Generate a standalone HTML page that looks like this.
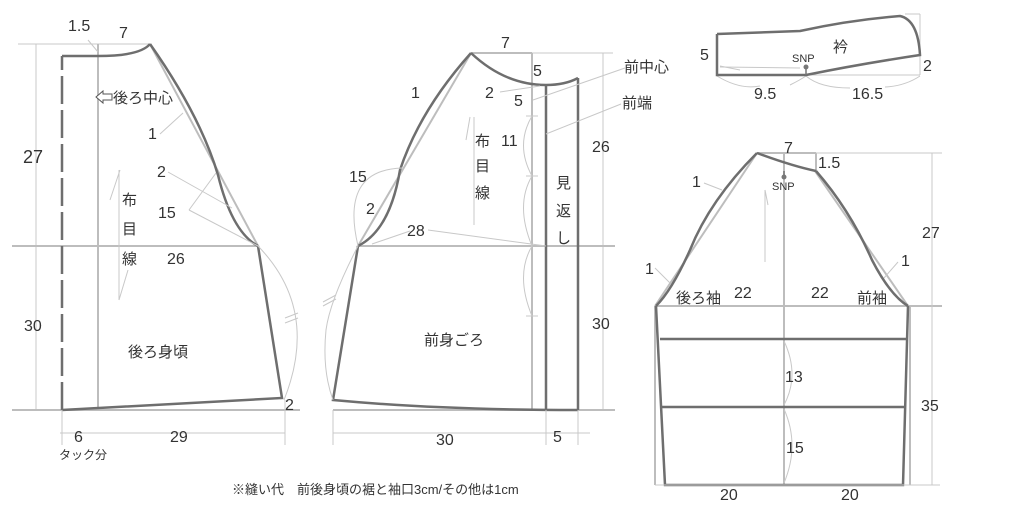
<!DOCTYPE html>
<html><head><meta charset="utf-8"><style>
html,body{margin:0;padding:0;background:#fff;}
svg{display:block;font-family:"Liberation Sans","Noto Sans CJK JP",sans-serif;}
.g{stroke:#bdbdbd;stroke-width:2;fill:none}
.t{stroke:#c8c8c8;stroke-width:1;fill:none}
.d{stroke:#6e6e6e;stroke-width:2.5;fill:none}
text{fill:#333}
.j{font-size:15px}
</style></head><body>
<svg width="1024" height="532" viewBox="0 0 1024 532" font-size="16">
<!-- BACK BODICE -->
<line class="t" x1="18" y1="44" x2="150" y2="44"/>
<line class="t" x1="36" y1="44" x2="36" y2="410"/>
<line class="g" x1="98" y1="44" x2="98" y2="410"/>
<line class="g" x1="12" y1="246" x2="258" y2="246"/>
<line class="g" x1="12" y1="410" x2="300" y2="410"/>
<line class="g" x1="150" y1="44" x2="258" y2="246"/>
<path class="d" d="M62 410 L62 56" stroke-dasharray="28 6"/>
<path class="d" d="M62 56 L98 56 Q140 56 150 44"/>
<path class="d" d="M150 44 Q200 115 218 175 Q232 232 258 246"/>
<path class="d" d="M258 246 L282 398 Q180 404 62 410"/>
<path class="t" d="M258 246 Q320 310 284 400"/>
<line class="t" x1="285" y1="400" x2="285" y2="445"/>
<line class="t" x1="62" y1="410" x2="62" y2="445"/>
<line class="t" x1="60" y1="433" x2="285" y2="433"/>
<line class="t" x1="120" y1="170" x2="110" y2="200"/>
<line class="t" x1="119" y1="170" x2="119" y2="300"/>
<line class="t" x1="119" y1="300" x2="128" y2="270"/>
<line class="t" x1="88" y1="40" x2="98" y2="52"/>
<line class="t" x1="160" y1="134" x2="183" y2="113"/>
<line class="t" x1="168" y1="172" x2="232" y2="208"/>
<line class="t" x1="189" y1="210" x2="216" y2="173"/>
<line class="t" x1="189" y1="210" x2="258" y2="246"/>
<line class="t" x1="285" y1="318" x2="298" y2="313"/>
<line class="t" x1="285" y1="323" x2="298" y2="318"/>
<path d="M96 97 l7 -6 v3 h9 v6 h-9 v3 z" fill="#fff" stroke="#555" stroke-width="1"/>
<text x="68" y="31">1.5</text><text x="119" y="38">7</text>
<text x="23" y="163" font-size="18">27</text><text x="24" y="331">30</text>
<text x="113" y="103" class="j">後ろ中心</text>
<text x="148" y="139">1</text><text x="157" y="177">2</text><text x="158" y="218">15</text>
<text x="122" y="205" class="j">布</text><text x="122" y="234" class="j">目</text><text x="122" y="264" class="j">線</text>
<text x="167" y="264">26</text>
<text x="128" y="357" class="j">後ろ身頃</text>
<text x="285" y="410">2</text>
<text x="74" y="442">6</text><text x="170" y="442">29</text>
<text x="59" y="459" font-size="12">タック分</text>
<!-- FRONT BODICE -->
<line class="g" x1="471" y1="53" x2="532" y2="53"/>
<line class="t" x1="532" y1="53" x2="613" y2="53"/>
<line class="g" x1="532" y1="53" x2="532" y2="410"/>
<line class="t" x1="603" y1="53" x2="603" y2="410"/>
<line class="g" x1="358" y1="246" x2="615" y2="246"/>
<line class="g" x1="333" y1="410" x2="615" y2="410"/>
<line class="g" x1="471" y1="53" x2="358" y2="246"/>
<path class="d" d="M471 53 Q505 85 546 85 Q565 85 578 78"/>
<path class="d" d="M546 85 L546 410 M578 78 L578 410"/>
<path class="d" d="M471 53 Q420 110 400 170 Q390 230 358 246"/>
<path class="d" d="M358 246 L333 400 Q440 410 578 410"/>
<path class="t" d="M358 246 Q330 300 326 330 Q322 370 333 400"/>
<path class="t" d="M402 168 Q340 170 358 246"/>
<path class="t" d="M532 116 Q515 145 532 176 Q515 205 532 246 Q515 275 532 316"/>
<line class="t" x1="526" y1="116" x2="538" y2="116"/><line class="t" x1="526" y1="176" x2="538" y2="176"/><line class="t" x1="526" y1="316" x2="538" y2="316"/>
<line class="t" x1="372" y1="244" x2="410" y2="231"/>
<line class="t" x1="428" y1="230" x2="546" y2="246"/>
<line class="t" x1="500" y1="92" x2="540" y2="86"/>
<line class="t" x1="533" y1="100" x2="625" y2="68"/>
<line class="t" x1="546" y1="134" x2="621" y2="104"/>
<line class="t" x1="470" y1="117" x2="466" y2="140"/>
<line class="t" x1="474" y1="117" x2="474" y2="225"/>
<line class="t" x1="333" y1="410" x2="333" y2="445"/><line class="t" x1="546" y1="410" x2="546" y2="445"/><line class="t" x1="578" y1="410" x2="578" y2="445"/>
<line class="t" x1="333" y1="433" x2="590" y2="433"/>
<line class="t" x1="323" y1="306" x2="336" y2="299"/><line class="t" x1="323" y1="302" x2="336" y2="295"/>
<text x="501" y="48">7</text><text x="533" y="76">5</text>
<text x="485" y="98">2</text><text x="514" y="106">5</text>
<text x="624" y="72" class="j">前中心</text><text x="622" y="108" class="j">前端</text>
<text x="411" y="98">1</text><text x="501" y="146">11</text>
<text x="475" y="146" class="j">布</text><text x="475" y="171" class="j">目</text><text x="475" y="198" class="j">線</text>
<text x="556" y="188" class="j">見</text><text x="556" y="216" class="j">返</text><text x="556" y="243" class="j">し</text>
<text x="592" y="152">26</text><text x="592" y="329">30</text>
<text x="349" y="182">15</text><text x="366" y="214">2</text><text x="407" y="236">28</text>
<text x="424" y="345" class="j">前身ごろ</text>
<text x="436" y="445">30</text><text x="553" y="442">5</text>
<!-- COLLAR -->
<line class="t" x1="717" y1="75" x2="920" y2="75"/>
<line class="t" x1="905" y1="14" x2="920" y2="14"/><line class="t" x1="920" y1="14" x2="920" y2="75"/>
<path class="t" d="M717 76 Q740 90 760 86 M790 85 Q800 80 806 76 M806 76 Q820 88 850 88 M885 87 Q905 86 920 76"/>
<line class="t" x1="720" y1="66" x2="740" y2="70"/>
<line class="t" x1="720" y1="67" x2="800" y2="68"/>
<path class="d" d="M717 34 L717 75 L806 75 Q860 64 920 55 Q918 20 900 16 Q850 20 800 31 L717 34"/>
<circle cx="806" cy="67" r="2.5" fill="#777"/>
<line x1="806" y1="67" x2="806" y2="75" stroke="#777" stroke-width="1.5"/>
<text x="833" y="52" class="j">衿</text><text x="792" y="62" font-size="11">SNP</text>
<text x="700" y="60">5</text><text x="923" y="71">2</text>
<text x="754" y="99">9.5</text><text x="852" y="99">16.5</text>
<!-- SLEEVE -->
<line class="g" x1="757" y1="153" x2="816" y2="153"/><line class="g" x1="816" y1="153" x2="816" y2="171"/>
<line class="t" x1="816" y1="153" x2="942" y2="153"/>
<line class="g" x1="784" y1="153" x2="784" y2="485"/>
<line class="g" x1="655" y1="306" x2="942" y2="306"/>
<line class="t" x1="932" y1="153" x2="932" y2="485"/>
<line class="g" x1="757" y1="153" x2="655" y2="306"/><line class="g" x1="815" y1="171" x2="908" y2="306"/>
<path class="g" d="M655 306 L655 485 M910 306 L910 485"/>
<path class="d" d="M757 153 Q792 166 816 171"/>
<path class="d" d="M757 153 Q710 200 690 250 Q672 290 656 306"/>
<path class="d" d="M816 171 Q850 210 872 260 Q890 295 908 306"/>
<path class="d" d="M656 306 L665 485 L903 485 L908 306"/>
<line class="d" x1="660" y1="339" x2="907" y2="339"/><line class="d" x1="662" y1="407" x2="905" y2="407"/>
<line class="t" x1="655" y1="485" x2="940" y2="485"/>
<path class="t" d="M784 341 Q800 375 784 405 M784 409 Q800 445 784 483"/>
<line class="t" x1="765" y1="190" x2="765" y2="262"/><line class="t" x1="765" y1="190" x2="768" y2="205"/>
<line x1="784" y1="171" x2="784" y2="177" stroke="#777" stroke-width="1.5"/>
<circle cx="784" cy="177" r="2.5" fill="#777"/>
<line class="t" x1="704" y1="183" x2="722" y2="190"/>
<line class="t" x1="655" y1="268" x2="670" y2="283"/>
<line class="t" x1="898" y1="262" x2="884" y2="278"/>
<text x="784" y="153">7</text><text x="818" y="168">1.5</text>
<text x="772" y="190" font-size="11">SNP</text>
<text x="692" y="187">1</text><text x="645" y="274">1</text><text x="901" y="266">1</text>
<text x="922" y="238">27</text><text x="921" y="411">35</text>
<text x="676" y="303" class="j">後ろ袖</text><text x="734" y="298">22</text>
<text x="811" y="298">22</text><text x="857" y="303" class="j">前袖</text>
<text x="785" y="382">13</text><text x="786" y="453">15</text>
<text x="720" y="500">20</text><text x="841" y="500">20</text>
<!-- NOTE -->
<text x="232" y="494" font-size="13">※縫い代　前後身頃の裾と袖口3cm/その他は1cm</text>
</svg>
</body></html>
